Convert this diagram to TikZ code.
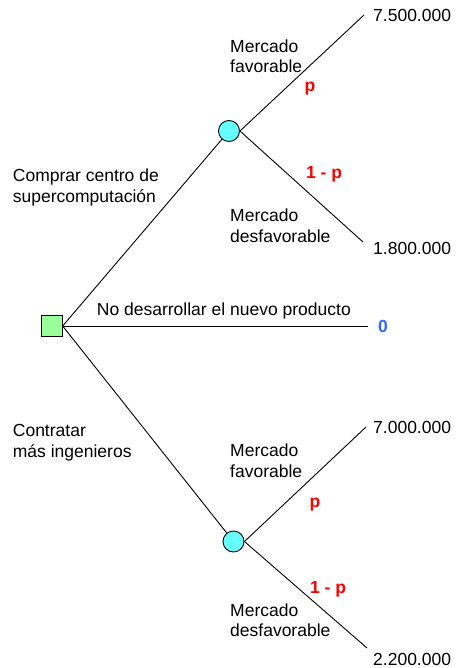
\documentclass[tikz,border=0pt]{standalone}
\usepackage{fontspec}
\setmainfont{Liberation Sans}
\definecolor{sqgreen}{RGB}{153,255,153}
\definecolor{circcyan}{RGB}{102,255,255}
\definecolor{zeroblue}{RGB}{51,102,255}
\begin{document}
\begin{tikzpicture}[x=1pt,y=-1pt,
  every node/.style={font=\fontsize{17.5}{20.4}\selectfont, inner sep=0pt},
  branch/.style={draw=black, line width=0.9pt},
  decision/.style={draw=black, line width=0.9pt, fill=sqgreen, minimum size=21pt, rectangle},
  chance/.style={draw=black, line width=0.9pt, fill=circcyan, minimum size=21pt, circle},
  lbl/.style={anchor=base west, align=left},
  prob/.style={text=red, font=\fontsize{17.5}{20.4}\selectfont\bfseries},
  payoff/.style={anchor=west}]
\useasboundingbox (0,0) rectangle (455,668);
\node[decision] (sq) at (51.7,326) {};
\node[chance] (c1) at (229,131) {};
\node[chance] (c2) at (233.5,541.5) {};
\coordinate (e1) at (364,15);
\coordinate (e2) at (363,242);
\coordinate (e0) at (368,326);
\coordinate (e3) at (366,427);
\coordinate (e4) at (367,648);
\draw[branch] (sq.east) -- (c1);
\draw[branch] (sq.east) -- (e0);
\draw[branch] (sq.east) -- (c2);
\draw[branch] (c1.east) -- (e1);
\draw[branch] (c1.east) -- (e2);
\draw[branch] (c2.east) -- (e3);
\draw[branch] (c2.east) -- (e4);
% payoffs
\node[payoff] (v1) at (373,15) {7.500.000};
\node[payoff] (v2) at (373,248) {1.800.000};
\node[anchor=west, text=zeroblue, font=\fontsize{17.5}{20.4}\selectfont\bfseries] (v0) at (378,326) {0};
\node[payoff] (v3) at (373,427) {7.000.000};
\node[payoff] (v4) at (373,659) {2.200.000};
% labels (base = last line baseline)
\node[lbl] (l1) at (230,72.7) {Mercado\\favorable};
\node[lbl] (l2) at (230,242.1) {Mercado\\desfavorable};
\node[lbl] (l3) at (12.7,202.1) {Comprar centro de\\supercomputación};
\node[anchor=base west] (l0) at (96.7,315) {No desarrollar el nuevo producto};
\node[lbl] (l4) at (12.7,457.1) {Contratar\\más ingenieros};
\node[lbl] (l5) at (230,477.1) {Mercado\\favorable};
\node[lbl] (l6) at (230,636.4) {Mercado\\desfavorable};
% probabilities
\node[prob] (p1) at (310,89) {p};
\node[prob] (p2) at (324,174) {1 - p};
\node[prob] (p3) at (315,505) {p};
\node[prob] (p4) at (328,589) {1 - p};
\end{tikzpicture}
\end{document}
